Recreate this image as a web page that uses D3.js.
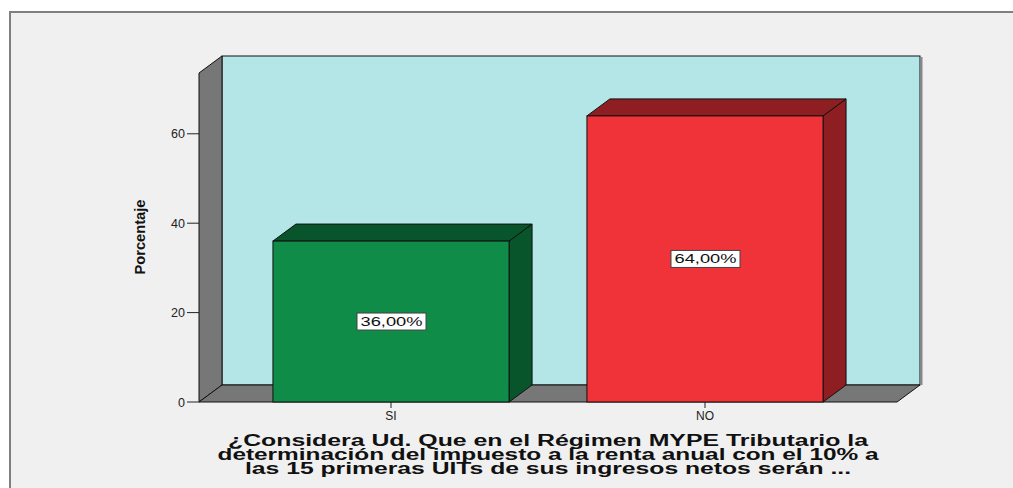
<!DOCTYPE html>
<html>
<head>
<meta charset="utf-8">
<script src="https://cdn.jsdelivr.net/npm/d3@7"></script>
<style>
  body { margin: 0; background: #fff; }
  svg text { font-family: "Liberation Sans", Arial, sans-serif; }
</style>
</head>
<body>
<svg id="chart" width="1013" height="488"></svg>
<script>
// data
const categories = ["SI", "NO"];
const percents = [36, 64];
const barLabels = ["36,00%", "64,00%"];
const yTicks = [0, 20, 40, 60];
const xTitle = [
  "¿Considera Ud. Que en el Régimen MYPE Tributario la",
  "determinación del impuesto a la renta anual con el 10% a",
  "las 15 primeras UITs de sus ingresos netos serán ..."
];

const svg = d3.select("#chart");
const dx = 23, dy = 17;   // 3d depth

// outer panel
svg.append("rect").attr("x", 10).attr("y", 12).attr("width", 1020).attr("height", 500)
  .attr("fill", "#f0f0f0").attr("stroke", "#7f7f7f").attr("stroke-width", 2);

const x = d3.scaleBand().domain(categories).range([199, 897])
  .paddingInner(0.248).paddingOuter(0.2355);
const y = d3.scaleLinear().domain([0, 73.6]).range([402, 73]);

const x0 = x.range()[0], x1 = x.range()[1];
const yb = y(0), yt = y(73.6);

// back wall
svg.append("rect").attr("x", x0 + dx).attr("y", yt - dy)
  .attr("width", x1 - x0).attr("height", yb - yt)
  .attr("fill", "#b4e6e8").attr("stroke", "#111").attr("stroke-width", 1);
svg.append("line").attr("x1", x1 + dx + 1.5).attr("x2", x1 + dx + 1.5)
  .attr("y1", yt - dy + 1).attr("y2", yb - dy)
  .attr("stroke", "#888").attr("stroke-width", 2);

// left wall
svg.append("polygon")
  .attr("points", [[x0, yb], [x0, yt], [x0 + dx, yt - dy], [x0 + dx, yb - dy]].join(" "))
  .attr("fill", "#777").attr("stroke", "#111").attr("stroke-width", 1);

// floor
svg.append("polygon")
  .attr("points", [[x0, yb], [x0 + dx, yb - dy], [x1 + dx, yb - dy], [x1, yb]].join(" "))
  .attr("fill", "#777").attr("stroke", "#111").attr("stroke-width", 1);

// y axis ticks
const yAxis = svg.append("g");
yTicks.forEach(t => {
  yAxis.append("line").attr("x1", x0 - 12).attr("x2", x0)
    .attr("y1", y(t)).attr("y2", y(t)).attr("stroke", "#222").attr("stroke-width", 1);
  yAxis.append("text").attr("x", x0 - 14).attr("y", y(t) + 4.5)
    .attr("text-anchor", "end").attr("font-size", 12.5).attr("fill", "#222").text(t);
});

svg.append("text")
  .attr("transform", "translate(145,237) rotate(-90)")
  .attr("text-anchor", "middle").attr("font-size", 15).attr("font-weight", "bold")
  .attr("textLength", 75).attr("lengthAdjust", "spacingAndGlyphs")
  .attr("fill", "#111").text("Porcentaje");

// bars
const front = ["#0f8c47", "#ef3338"];
const dark = ["#08552b", "#8f1e22"];

categories.forEach((c, i) => {
  const bx = x(c), bw = x.bandwidth(), by = y(percents[i]);
  const g = svg.append("g");
  g.append("polygon")
    .attr("points", [[bx + bw, yb], [bx + bw, by], [bx + bw + dx, by - dy], [bx + bw + dx, yb - dy]].join(" "))
    .attr("fill", dark[i]).attr("stroke", "#111");
  g.append("polygon")
    .attr("points", [[bx, by], [bx + dx, by - dy], [bx + bw + dx, by - dy], [bx + bw, by]].join(" "))
    .attr("fill", dark[i]).attr("stroke", "#111");
  g.append("rect").attr("x", bx).attr("y", by).attr("width", bw).attr("height", yb - by)
    .attr("fill", front[i]).attr("stroke", "#111");

  // label box
  const cx = bx + bw / 2, cy = (by + yb) / 2;
  g.append("rect").attr("x", cx - 34).attr("y", cy - 8.5).attr("width", 69).attr("height", 17)
    .attr("fill", "#fff").attr("stroke", "#444");
  g.append("text").attr("x", cx + 0.5).attr("y", cy + 4.5).attr("text-anchor", "middle")
    .attr("font-size", 13.5).attr("textLength", 62).attr("lengthAdjust", "spacingAndGlyphs")
    .attr("fill", "#111").text(barLabels[i]);

  // x tick + label
  svg.append("line").attr("x1", cx).attr("x2", cx).attr("y1", yb).attr("y2", yb + 6)
    .attr("stroke", "#222");
  svg.append("text").attr("x", cx).attr("y", yb + 17.5).attr("text-anchor", "middle")
    .attr("font-size", 12).attr("fill", "#222").text(c);
});

// x title
const lineWidths = [640, 661, 606];
xTitle.forEach((t, i) => {
  svg.append("text").attr("x", 548).attr("y", 445.5 + i * 14.3)
    .attr("text-anchor", "middle").attr("font-size", 16).attr("font-weight", "bold")
    .attr("textLength", lineWidths[i]).attr("lengthAdjust", "spacingAndGlyphs")
    .attr("fill", "#111").text(t);
});
</script>
</body>
</html>
